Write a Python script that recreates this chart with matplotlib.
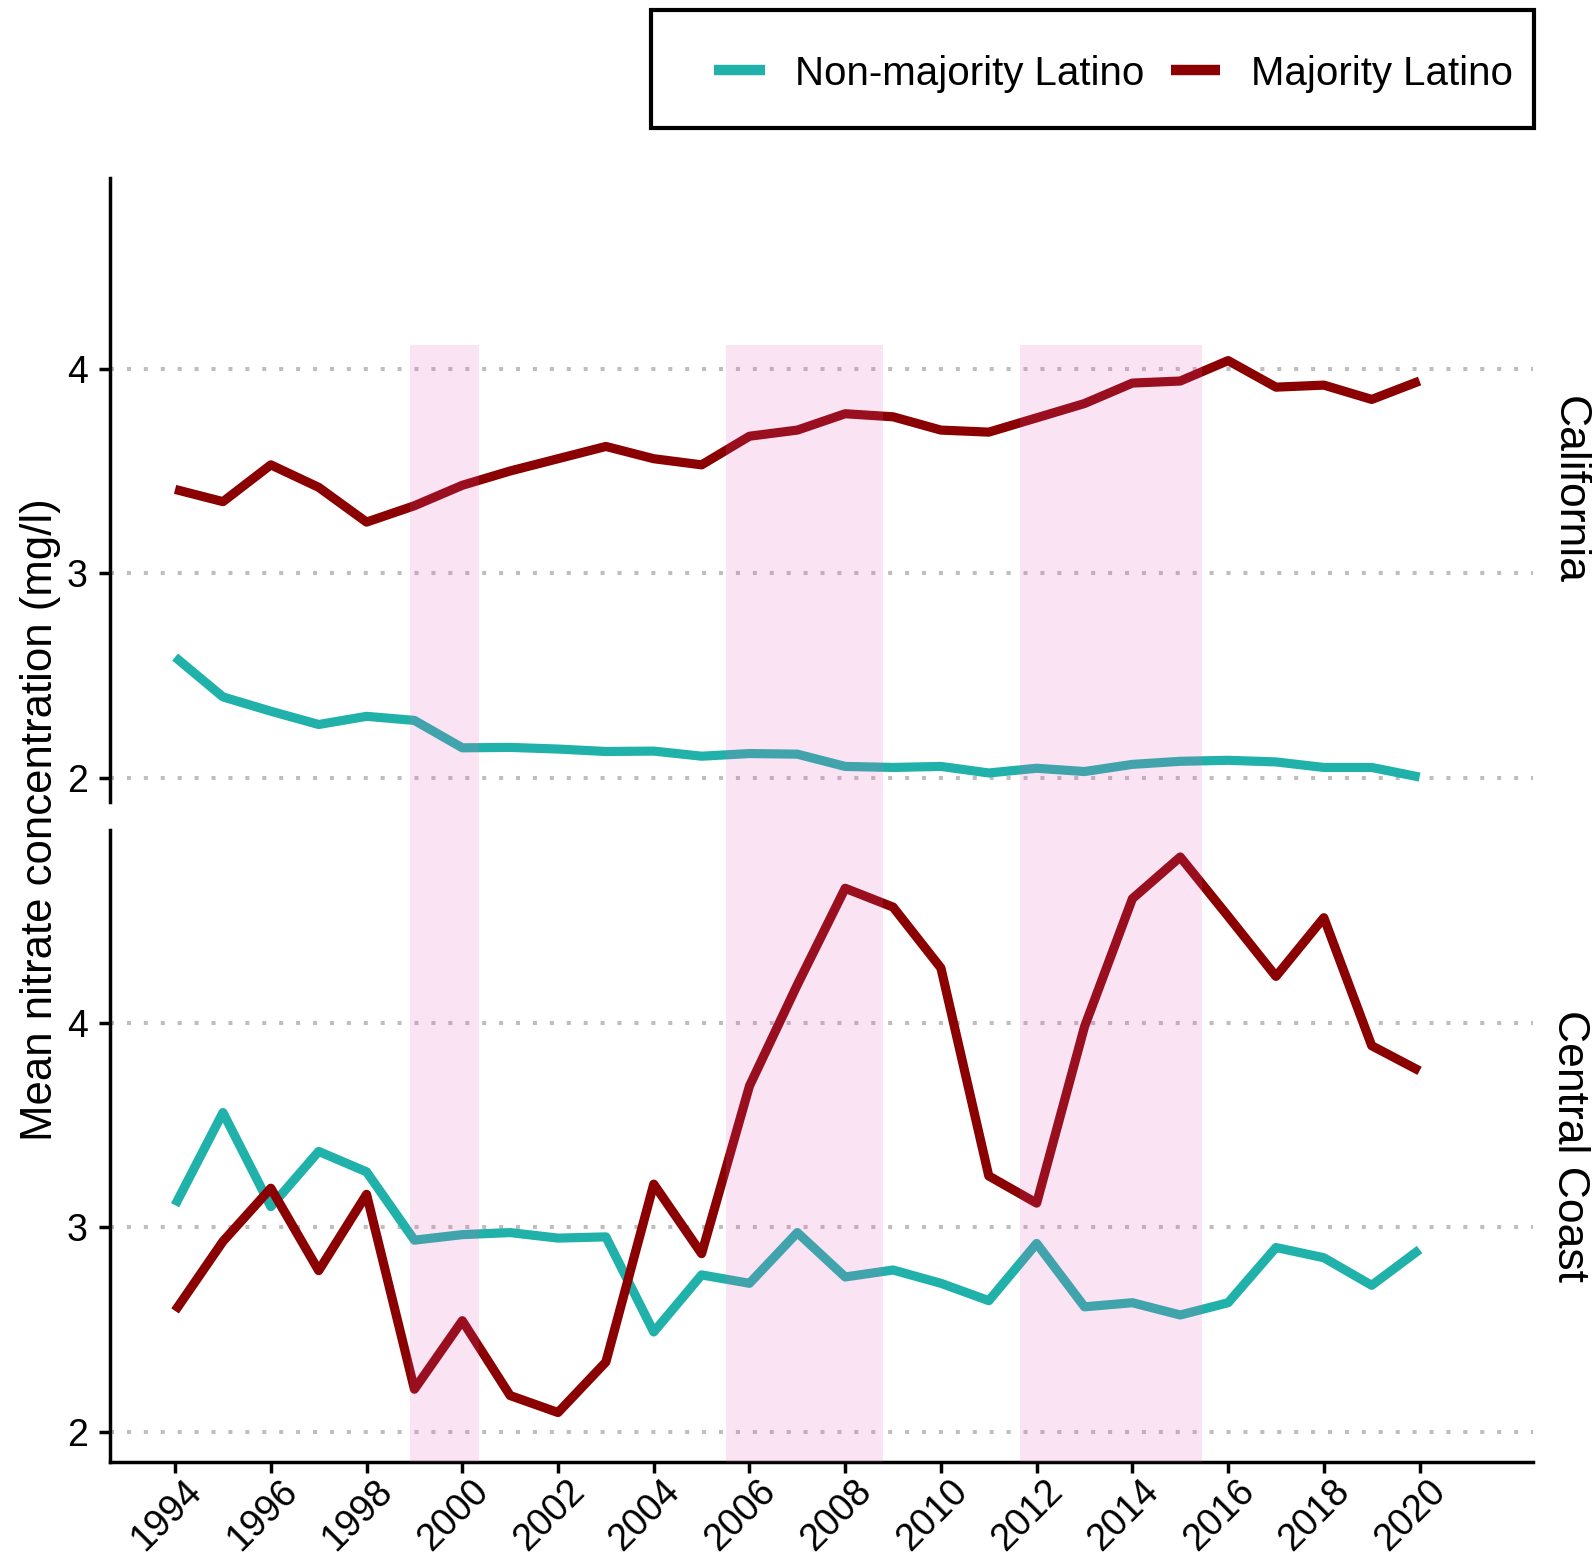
import matplotlib
matplotlib.use("Agg")
import matplotlib.pyplot as plt
from matplotlib.patches import Rectangle
from matplotlib.lines import Line2D
from matplotlib.transforms import ScaledTranslation, blended_transform_factory

# mean nitrate (mg/l) by year, split by majority-Latino status of the community
years = list(range(1994, 2021))
ca_non_majority = [2.59, 2.395, 2.325, 2.26, 2.30, 2.28, 2.146, 2.148, 2.14, 2.128,
                   2.13, 2.105, 2.118, 2.115, 2.055, 2.05, 2.055, 2.023, 2.046, 2.03,
                   2.065, 2.08, 2.085, 2.077, 2.05, 2.05, 2.003]
ca_majority = [3.41, 3.35, 3.53, 3.42, 3.25, 3.33, 3.43, 3.50, 3.56, 3.62,
               3.56, 3.53, 3.67, 3.70, 3.78, 3.765, 3.70, 3.69, 3.76, 3.83,
               3.93, 3.94, 4.04, 3.91, 3.92, 3.85, 3.94]
cc_non_majority = [3.107, 3.56, 3.10, 3.37, 3.27, 2.936, 2.963, 2.973, 2.946, 2.952,
                   2.487, 2.766, 2.725, 2.973, 2.756, 2.79, 2.725, 2.64, 2.92, 2.61,
                   2.63, 2.57, 2.63, 2.90, 2.85, 2.715, 2.89]
cc_majority = [2.59, 2.93, 3.19, 2.787, 3.16, 2.207, 2.542, 2.176, 2.093, 2.34,
               3.21, 2.87, 3.69, 4.185, 4.657, 4.565, 4.267, 3.25, 3.117, 3.98,
               4.606, 4.81, 4.52, 4.226, 4.513, 3.887, 3.764]

drought_periods = [(1998.9, 2000.35), (2005.5, 2008.8), (2011.65, 2015.45)]
drought_top = 4.115
regions = ["California", "Central Coast"]
series_labels = ["Non-majority Latino", "Majority Latino"]
colors = ["#20B2AA", "#8B0000"]
year_ticks = list(range(1994, 2021, 2))
value_ticks = [2, 3, 4]

plt.rcParams["font.family"] = ["Liberation Sans", "DejaVu Sans"]

W, H = 1592, 1557
fig = plt.figure(figsize=(W / 100, H / 100), dpi=100)


def px_box(left, top, right, bottom):
    return [left / W, 1 - bottom / H, (right - left) / W, (bottom - top) / H]


ax_ca = fig.add_axes(px_box(110, 178, 1533, 802))
ax_cc = fig.add_axes(px_box(110, 830, 1533, 1462))

panels = [
    (ax_ca, [ca_non_majority, ca_majority], (1.881, 4.933)),
    (ax_cc, [cc_non_majority, cc_majority], (1.851, 4.942)),
]

for ax, series, ylim in panels:
    for values, color in zip(series, colors):
        ax.plot(years, values, color=color, lw=6.6, solid_capstyle="butt",
                solid_joinstyle="round", zorder=3)
    ax.set_xlim(1992.64, 2022.37)
    ax.set_ylim(*ylim)
    ax.set_yticks(value_ticks)
    ax.set_xticks(year_ticks)
    ax.set_axisbelow(True)
    ax.grid(axis="y", color="#BEBEBE", linewidth=2.9, linestyle=(0, (1, 3.2)))
    for side in ["top", "right"]:
        ax.spines[side].set_visible(False)
    for side in ["left", "bottom"]:
        ax.spines[side].set_linewidth(2.5)
    ax.tick_params(axis="both", length=8, width=2.5, labelsize=27, pad=8)

ax_ca.spines["bottom"].set_visible(False)
ax_ca.tick_params(axis="x", bottom=False, labelbottom=False)

ax_cc.set_xticklabels([str(y) for y in year_ticks], rotation=45, ha="right",
                      va="top", rotation_mode="anchor")
ax_cc.tick_params(axis="x", pad=0.3)
shift = ScaledTranslation(8 / 100, 0, fig.dpi_scale_trans)
for lbl in ax_cc.get_xticklabels():
    lbl.set_transform(lbl.get_transform() + shift)

# drought bands run across both panels and sit on top of the lines
to_fig = ax_ca.transData + fig.transFigure.inverted()
band_top = to_fig.transform((2000, drought_top))[1]
band_bottom = ax_cc.get_position().y0
band_trans = blended_transform_factory(ax_cc.transData, fig.transFigure)
for x0, x1 in drought_periods:
    fig.add_artist(Rectangle((x0, band_bottom), x1 - x0, band_top - band_bottom,
                             transform=band_trans, facecolor=(231 / 255, 92 / 255, 185 / 255),
                             alpha=0.17, lw=0))

# panel strip labels
for ax, region in zip([ax_ca, ax_cc], regions):
    pos = ax.get_position()
    fig.text(1569 / W, (pos.y0 + pos.y1) / 2, region, rotation=270, fontsize=32,
             ha="center", va="center")

fig.text(41 / W, 1 - 820 / H, "Mean nitrate concentration (mg/l)", rotation=90,
         fontsize=31.5, ha="center", va="center")

# legend box
fig.add_artist(Rectangle((651 / W, 1 - 128 / H), (1534 - 651) / W, (128 - 10) / H,
                         transform=fig.transFigure, fill=False, edgecolor="black", lw=3))
key_y = 1 - 70 / H
for (k0, k1, tx), label, color in zip([(714, 765, 795), (1171, 1220, 1251)],
                                      series_labels, colors):
    fig.add_artist(Line2D([k0 / W, k1 / W], [key_y, key_y], color=color, lw=7.5,
                          solid_capstyle="butt", transform=fig.transFigure))
    fig.text(tx / W, 1 - 85 / H, label, fontsize=29, ha="left", va="baseline")

fig.savefig("out.png", dpi=100)
